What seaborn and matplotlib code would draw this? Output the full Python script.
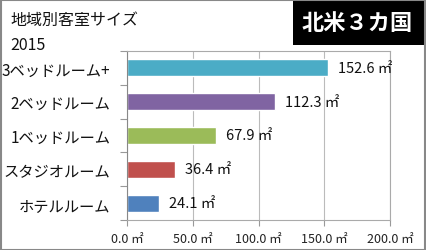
import matplotlib
matplotlib.use("Agg")
import matplotlib.pyplot as plt
import seaborn as sns
import pandas as pd
from matplotlib.patches import Rectangle

categories = ["3ベッドルーム+", "2ベッドルーム", "1ベッドルーム", "スタジオルーム", "ホテルルーム"]
values = [152.6, 112.3, 67.9, 36.4, 24.1]
colors = ["#4BACC6", "#8064A2", "#9BBB59", "#C0504D", "#4F81BD"]
xticks = [0, 50, 100, 150, 200]
xtick_labels = ["0.0 ㎡", "50.0 ㎡", "100.0 ㎡", "150.0 ㎡", "200.0 ㎡"]
title1 = "地域別客室サイズ"
title2 = "2015"
badge = "北米３カ国"

sns.set_theme(style="white")
plt.rcParams['font.family'] = ['Noto Sans CJK JP', 'DejaVu Sans']

df = pd.DataFrame({"cat": categories, "val": values})

fig = plt.figure(figsize=(4.26, 2.51), dpi=100)
W, H = 426, 251
ax = fig.add_axes([127 / W, 1 - 221 / H, (390 - 127) / W, (221 - 52) / H])

sns.barplot(data=df, y="cat", x="val", hue="cat", palette=colors, legend=False,
            width=0.5, ax=ax, saturation=1, orient="h")

ax.set_xlim(0, 200)
ax.set_xticks(xticks)
ax.set_xticklabels(xtick_labels, fontsize=9, color="#222222")
ax.set_xlabel("")
ax.set_ylabel("")
ax.tick_params(axis="y", length=0, labelsize=11, pad=12, labelcolor="#111111")
ax.set_yticks(range(len(categories)))
ax.set_yticklabels(categories)
ax.set_yticks([i - 0.5 for i in range(len(categories) + 1)], minor=True)
ax.tick_params(axis="y", which="minor", length=5, color="#999999", width=0.8, left=True)
ax.tick_params(axis="x", length=4, color="#999999", width=0.8, bottom=True, pad=5)
ax.grid(axis="x", color="#bbbbbb", linewidth=0.8)
ax.set_axisbelow(True)
for s in ["top", "bottom", "left", "right"]:
    ax.spines[s].set_visible(True)
    ax.spines[s].set_color("#aaaaaa")
    ax.spines[s].set_linewidth(0.8)
ax.spines["left"].set_color("#888888")

for i, v in enumerate(values):
    ax.text(v + 7.5, i, f"{v:.1f} ㎡", va="center", ha="left", fontsize=10.5, color="#111111")

fig.text(10 / W, 1 - 20 / H, title1, fontsize=11.5, ha="left", va="center", color="#111111")
fig.text(10 / W, 1 - 45 / H, title2, fontsize=11.5, ha="left", va="center", color="#111111")

fig.patches.append(Rectangle((293 / W, 1 - 46 / H), (424 - 293) / W, 45 / H,
                             transform=fig.transFigure, facecolor="black", edgecolor="none"))
fig.text(357 / W, 1 - 24 / H, badge, fontsize=16, fontweight="bold", ha="center", va="center",
         color="white")

fig.patches.append(Rectangle((0.5 / W, 0.5 / H), (W - 1.5) / W, (H - 1.5) / H,
                             transform=fig.transFigure, facecolor="none", edgecolor="#888888",
                             linewidth=1.5))

fig.savefig("out.png", dpi=100)
